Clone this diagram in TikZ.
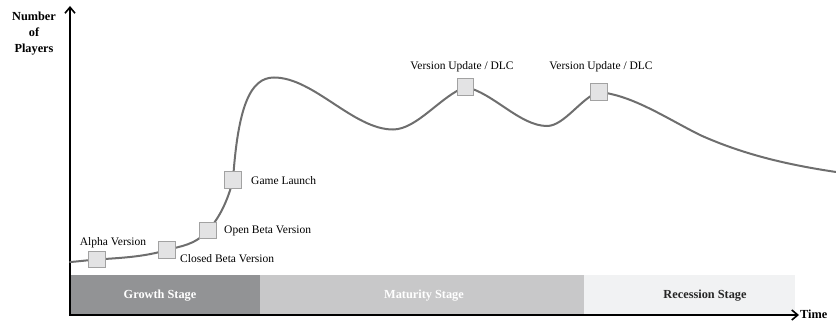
\documentclass[tikz,border=0pt]{standalone}
\usepackage{fontspec}
\setmainfont{Liberation Serif}
\usetikzlibrary{arrows.meta}
\definecolor{growthc}{HTML}{929395}
\definecolor{maturc}{HTML}{C8C8C9}
\definecolor{recc}{HTML}{F1F2F3}
\definecolor{curvec}{HTML}{6E6E6E}
\definecolor{markfill}{HTML}{E3E3E4}
\definecolor{markdraw}{HTML}{A2A2A2}
\tikzset{
  marker/.style={draw=markdraw, fill=markfill, line width=0.9pt, minimum size=16.5pt, inner sep=0pt},
  lbl/.style={font=\fontsize{11.5}{13}\selectfont, inner sep=0pt},
  stagelbl/.style={font=\fontsize{12.3}{14}\selectfont\bfseries, inner sep=0pt},
  axis/.style={line width=1.6pt, -{Straight Barb[length=6pt,width=10pt,line width=1.6pt]}},
}
\begin{document}
\begin{tikzpicture}[x=1pt,y=-1pt]
\useasboundingbox (0,0) rectangle (836,321);
% stage bands
\fill[growthc] (70,275) rectangle (260,314);
\fill[maturc] (260,275) rectangle (584,314);
\fill[recc] (584,275) rectangle (795,314);
\node[stagelbl, text=white] (gs) at (160,296) {Growth Stage};
\node[stagelbl, text=white] (ms) at (424,296) {Maturity Stage};
\node[stagelbl, text=black!85] (rs) at (705,296) {Recession Stage};
% axes
\coordinate (o) at (70,315);
\coordinate (ox) at (69.2,315);
\coordinate (ytop) at (70,6);
\coordinate (xend) at (799,315);
\draw[axis] (o) -- (ytop);
\draw[axis] (ox) -- (xend);
\node[font=\fontsize{12.3}{16}\selectfont\bfseries, align=center, inner sep=0pt] (ylab) at (34,34) {Number\\of\\Players};
\node[font=\fontsize{12.3}{14}\selectfont\bfseries, anchor=west, inner sep=0pt] (xlab) at (800,314) {Time};
% curve points
\coordinate (start) at (70,262);
\coordinate (pa) at (97,259.5);
\coordinate (pc) at (167,250);
\coordinate (po) at (208,230.5);
\coordinate (pl) at (233,180);
\coordinate (pk) at (274,77.5);
\coordinate (tr1) at (393,129.5);
\coordinate (pd1) at (465.5,87);
\coordinate (tr2) at (547,126);
\coordinate (pd2) at (599,92);
\coordinate (mid) at (700,135);
\coordinate (endc) at (836,172);
% curve
\draw[curvec, line width=2pt, line cap=round]
 (start) .. controls (79,261.4) and (88,260.1) .. (pa)
 .. controls (120.3,257.9) and (143.7,257) .. (pc)
 .. controls (180.7,245.9) and (194.3,245.6) .. (po)
 .. controls (220.6,216.6) and (228.4,198.2) .. (pl)
 .. controls (238,107) and (250,77.5) .. (pk)
 .. controls (313.7,77.5) and (353.3,129.5) .. (tr1)
 .. controls (417,129.5) and (441.5,95.4) .. (pd1)
 .. controls (492.5,92.4) and (520,126) .. (tr2)
 .. controls (564.3,126) and (581.7,97.2) .. (pd2)
 .. controls (632.7,95.4) and (666.3,118.2) .. (mid)
 .. controls (745.3,155.4) and (790.7,165.2) .. (endc);
% markers
\node[marker] (alpha) at (pa) {};
\node[marker] (closed) at (pc) {};
\node[marker] (open) at (po) {};
\node[marker] (launch) at (pl) {};
\node[marker] (dlc1) at (pd1) {};
\node[marker] (dlc2) at (pd2) {};
% labels
\node[lbl] (alphal) at (113,243) {Alpha Version};
\node[lbl, anchor=west] (closedl) at (180,259) {Closed Beta Version};
\node[lbl, anchor=west] (openl) at (224,230.5) {Open Beta Version};
\node[lbl, anchor=west] (launchl) at (251,181) {Game Launch};
\node[lbl] (dlc1l) at (462,67) {Version Update / DLC};
\node[lbl] (dlc2l) at (601,67) {Version Update / DLC};
\end{tikzpicture}
\end{document}
